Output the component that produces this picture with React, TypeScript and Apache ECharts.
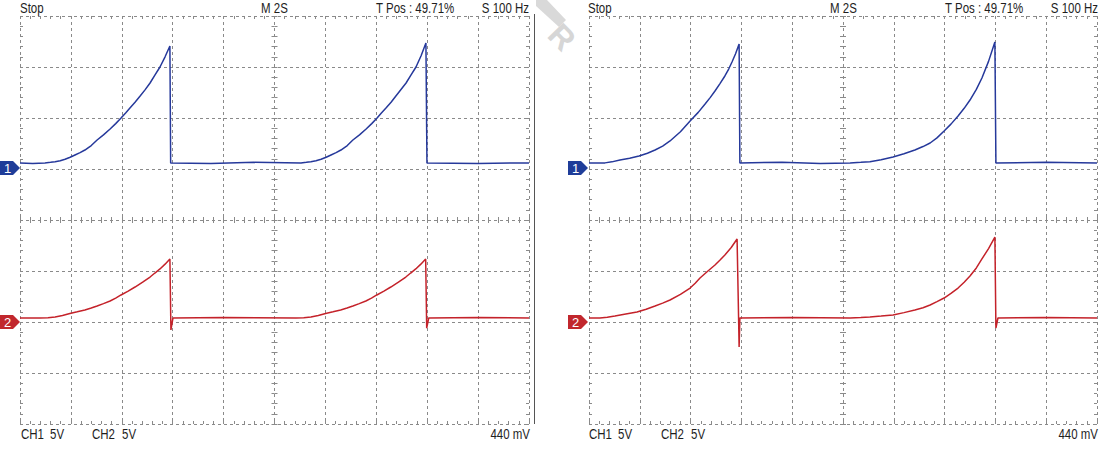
import React, { useEffect, useRef } from "react";
import * as echarts from "echarts";

// Time in seconds (2 s/div), voltage in volts (5 V/div)
const leftCh1: [number, number][] = [
  [0, 5.6], [0.5, 5.55], [0.98, 5.6], [1.2, 5.65], [1.38, 5.7], [1.58, 5.8], [1.77, 5.95],
  [1.97, 6.15], [2.16, 6.37], [2.36, 6.6], [2.55, 6.86], [2.8, 7.3], [3.03, 7.84], [3.28, 8.35],
  [3.54, 8.92], [3.76, 9.45], [3.97, 10.0], [4.15, 10.5], [4.32, 10.98], [4.52, 11.55],
  [4.72, 12.16], [4.92, 12.78], [5.11, 13.43], [5.3, 14.2], [5.5, 15.0], [5.7, 16.0],
  [5.89, 17.06], [5.92, 5.6], [7.5, 5.55], [9.2, 5.65], [11.04, 5.6], [11.25, 5.65],
  [11.43, 5.7], [11.63, 5.8], [11.83, 5.95], [12.03, 6.15], [12.22, 6.37], [12.42, 6.6],
  [12.61, 6.86], [12.86, 7.3], [13.08, 7.84], [13.34, 8.35], [13.6, 8.92], [13.82, 9.45],
  [14.03, 10.0], [14.2, 10.5], [14.38, 10.98], [14.58, 11.55], [14.77, 12.16], [14.97, 12.8],
  [15.17, 13.43], [15.36, 14.2], [15.56, 15.0], [15.76, 16.1], [15.95, 17.35], [15.99, 5.6],
  [18, 5.55], [20, 5.6],
];
const leftCh2: [number, number][] = [
  [0, -9.61], [0.79, -9.61], [1.1, -9.58], [1.38, -9.51], [1.67, -9.36], [1.96, -9.17],
  [2.25, -9.0], [2.55, -8.82], [2.8, -8.63], [3.03, -8.43], [3.28, -8.2], [3.54, -7.94],
  [3.76, -7.66], [3.97, -7.35], [4.25, -6.97], [4.52, -6.57], [4.82, -6.1], [5.11, -5.59],
  [5.3, -5.2], [5.5, -4.8], [5.7, -4.33], [5.89, -3.82], [5.93, -10.78], [6.01, -9.61],
  [8, -9.55], [10.84, -9.61], [11.15, -9.58], [11.43, -9.51], [11.72, -9.36], [12.01, -9.17],
  [12.3, -9.0], [12.6, -8.82], [12.85, -8.63], [13.08, -8.43], [13.33, -8.2], [13.59, -7.94],
  [13.81, -7.66], [14.02, -7.35], [14.3, -6.97], [14.57, -6.57], [14.87, -6.1], [15.16, -5.59],
  [15.35, -5.2], [15.55, -4.8], [15.75, -4.33], [15.94, -3.82], [15.98, -10.6], [16.06, -9.61],
  [18, -9.55], [20, -9.61],
];
const rightCh1: [number, number][] = [
  [0, 5.6], [0.63, 5.6], [0.9, 5.7], [1.22, 5.88], [1.6, 6.05], [1.97, 6.27], [2.3, 6.55],
  [2.6, 6.86], [2.9, 7.25], [3.19, 7.75], [3.6, 8.65], [3.98, 9.71], [4.3, 10.55], [4.57, 11.37],
  [4.77, 12.0], [4.96, 12.65], [5.15, 13.35], [5.35, 14.12], [5.5, 14.8], [5.63, 15.49],
  [5.77, 16.3], [5.91, 17.25], [5.94, 5.6], [7.6, 5.65], [9.1, 5.55], [10.28, 5.6],
  [10.7, 5.65], [11.06, 5.7], [11.5, 5.9], [11.97, 6.18], [12.4, 6.5], [12.83, 6.86],
  [13.15, 7.2], [13.43, 7.55], [13.7, 8.05], [13.98, 8.72], [14.25, 9.4], [14.53, 10.2],
  [14.77, 10.95], [15.0, 11.76], [15.25, 12.8], [15.47, 13.92], [15.73, 15.55], [15.98, 17.45],
  [16.02, 5.6], [18, 5.65], [20, 5.6],
];
const rightCh2: [number, number][] = [
  [0, -9.61], [0.43, -9.61], [0.72, -9.53], [1.02, -9.41], [1.45, -9.22], [1.89, -9.02],
  [2.25, -8.75], [2.6, -8.43], [2.9, -8.15], [3.19, -7.84], [3.6, -7.3], [3.98, -6.67],
  [4.18, -6.2], [4.37, -5.69], [4.66, -5.05], [4.96, -4.41], [5.15, -3.95], [5.35, -3.43],
  [5.6, -2.7], [5.83, -1.86], [5.87, -7.06], [5.91, -12.45], [5.94, -9.61], [8, -9.55],
  [10.28, -9.61], [10.7, -9.56], [11.06, -9.51], [11.5, -9.42], [11.97, -9.31], [12.4, -9.08],
  [12.83, -8.82], [13.15, -8.6], [13.43, -8.33], [13.7, -8.0], [13.98, -7.65], [14.25, -7.2],
  [14.53, -6.67], [14.77, -6.1], [15.0, -5.49], [15.25, -4.7], [15.47, -3.82], [15.73, -2.8],
  [15.98, -1.67], [16.02, -10.59], [16.1, -9.61], [18, -9.55], [20, -9.61],
];

const statusText = "Stop";
const timebaseText = "M 2S";
const triggerText = "T Pos : 49.71%";
const sampleText = "S 100 Hz";
const ch1Text = ["CH1", "5V"];
const ch2Text = ["CH2", "5V"];
const trigLevelText = "440 mV";

const GRID = "#8a8a8a";
const BLUE = "#26399b";
const RED = "#c4222a";
const TXT = "#1e1e1e";

const scopes = [
  { left: 20, width: 509, ch1: leftCh1, ch2: leftCh2 },
  { left: 589, width: 508, ch1: rightCh1, ch2: rightCh2 },
];
const TOP = 16;
const HEIGHT = 408;

function tickCfg(inside: boolean) {
  return {
    axisTick: { show: true, inside, length: 3, lineStyle: { color: GRID, width: 1 } },
    minorTick: { show: true, splitNumber: 5, length: 3, lineStyle: { color: GRID, width: 1 } },
    axisLabel: { show: false },
  };
}

function buildOption() {
  const grid: any[] = [];
  const xAxis: any[] = [];
  const yAxis: any[] = [];
  const series: any[] = [];
  scopes.forEach((s, i) => {
    const gMain = i * 2;
    const gCen = i * 2 + 1;
    grid.push({ left: s.left, top: TOP, width: s.width, height: HEIGHT, containLabel: false });
    grid.push({ left: s.left, top: TOP, width: s.width, height: HEIGHT, containLabel: false });
    const xBase = { type: "value", min: 0, max: 20, interval: 2 };
    const yBase = { type: "value", min: -20, max: 20, interval: 5 };
    const split = { show: true, lineStyle: { color: GRID, type: [3, 3], width: 1 } };
    xAxis.push({ ...xBase, gridIndex: gMain, position: "bottom", axisLine: { show: false, onZero: false }, ...tickCfg(true), splitLine: split });
    xAxis.push({ ...xBase, gridIndex: gMain, position: "top", axisLine: { show: false, onZero: false }, ...tickCfg(true), splitLine: { show: false } });
    xAxis.push({ type: "value", min: -10, max: 10, interval: 2, gridIndex: gCen, position: "bottom", axisLine: { show: false, onZero: true }, ...tickCfg(true), splitLine: { show: false } });
    xAxis.push({ type: "value", min: -10, max: 10, interval: 2, gridIndex: gCen, position: "top", axisLine: { show: false, onZero: true }, ...tickCfg(true), splitLine: { show: false } });
    yAxis.push({ ...yBase, gridIndex: gMain, position: "left", axisLine: { show: false, onZero: false }, ...tickCfg(true), splitLine: split });
    yAxis.push({ ...yBase, gridIndex: gMain, position: "right", axisLine: { show: false, onZero: false }, ...tickCfg(true), splitLine: { show: false } });
    yAxis.push({ ...yBase, gridIndex: gCen, position: "left", axisLine: { show: false, onZero: true }, ...tickCfg(true), splitLine: { show: false } });
    yAxis.push({ ...yBase, gridIndex: gCen, position: "right", axisLine: { show: false, onZero: true }, ...tickCfg(true), splitLine: { show: false } });
    const ax = i * 4;
    series.push({
      type: "line", xAxisIndex: ax, yAxisIndex: ax, data: s.ch1, symbol: "none", silent: true,
      lineStyle: { color: BLUE, width: 1.5 }, itemStyle: { color: BLUE }, z: 5,
    });
    series.push({
      type: "line", xAxisIndex: ax, yAxisIndex: ax, data: s.ch2, symbol: "none", silent: true,
      lineStyle: { color: RED, width: 1.5 }, itemStyle: { color: RED }, z: 5,
    });
  });

  const txt = (text: string, x: number, y: number, align = "left") => ({
    type: "text", x, y, scaleX: 0.82, z: 10,
    style: {
      text, fill: TXT, fontSize: 14, fontFamily: "Liberation Sans, Arial, sans-serif",
      align, textAlign: align, verticalAlign: "middle", textVerticalAlign: "middle",
    },
  });
  const marker = (label: string, x0: number, yTop: number, color: string) => ({
    type: "group", z: 10,
    children: [
      {
        type: "polygon",
        shape: { points: [[x0, yTop], [x0 + 13, yTop], [x0 + 20, yTop + 7], [x0 + 13, yTop + 14], [x0, yTop + 14]] },
        style: { fill: color },
      },
      {
        type: "text", x: x0 + 7.5, y: yTop + 7.5,
        style: { text: label, fill: "#ffffff", fontSize: 13, fontFamily: "Liberation Sans, Arial, sans-serif", align: "center", textAlign: "center", verticalAlign: "middle", textVerticalAlign: "middle" },
      },
    ],
  });

  const graphic: any[] = [
    // watermark
    { type: "polygon", z: 0, shape: { points: [[536, 0], [547, 0], [566, 20], [559, 27], [536, 6]] }, style: { fill: "#d9d9d9" } },
    { type: "text", x: 562, y: 37, rotation: -0.8, z: 0, style: { text: "R", fill: "#d6d6d6", fontSize: 32, fontWeight: "bold", fontFamily: "Liberation Sans, Arial, sans-serif", align: "center", textAlign: "center", verticalAlign: "middle", textVerticalAlign: "middle" } },
    // separator
    { type: "line", z: 10, shape: { x1: 534.5, y1: 14, x2: 534.5, y2: 424 }, style: { stroke: "#555555", lineWidth: 1 } },
    // left scope texts
    txt(statusText, 20, 8), txt(timebaseText, 261, 8), txt(triggerText, 376, 8), txt(sampleText, 529, 8, "right"),
    txt(ch1Text[0], 21, 434), txt(ch1Text[1], 50, 434), txt(ch2Text[0], 92, 434), txt(ch2Text[1], 122, 434),
    txt(trigLevelText, 530, 434, "right"),
    // right scope texts
    txt(statusText, 588, 8), txt(timebaseText, 830, 8), txt(triggerText, 945, 8), txt(sampleText, 1098, 8, "right"),
    txt(ch1Text[0], 589, 434), txt(ch1Text[1], 618, 434), txt(ch2Text[0], 661, 434), txt(ch2Text[1], 691, 434),
    txt(trigLevelText, 1098, 434, "right"),
    // channel markers
    marker("1", 0, 161, "#1f3d99"), marker("2", 0, 315, "#c1272d"),
    marker("1", 568, 161, "#1f3d99"), marker("2", 568, 315, "#c1272d"),
  ];

  return {
    animation: false,
    backgroundColor: "#ffffff",
    grid, xAxis, yAxis, series, graphic,
  };
}

export default function App() {
  const ref = useRef<HTMLDivElement>(null);
  useEffect(() => {
    if (!ref.current) return;
    const chart = echarts.init(ref.current, undefined, { renderer: "svg" });
    chart.setOption(buildOption() as any);
    return () => chart.dispose();
  }, []);
  return (
    <div
      ref={ref}
      style={{ position: "fixed", left: 0, top: 0, width: 1104, height: 450, background: "#fff" }}
    />
  );
}
